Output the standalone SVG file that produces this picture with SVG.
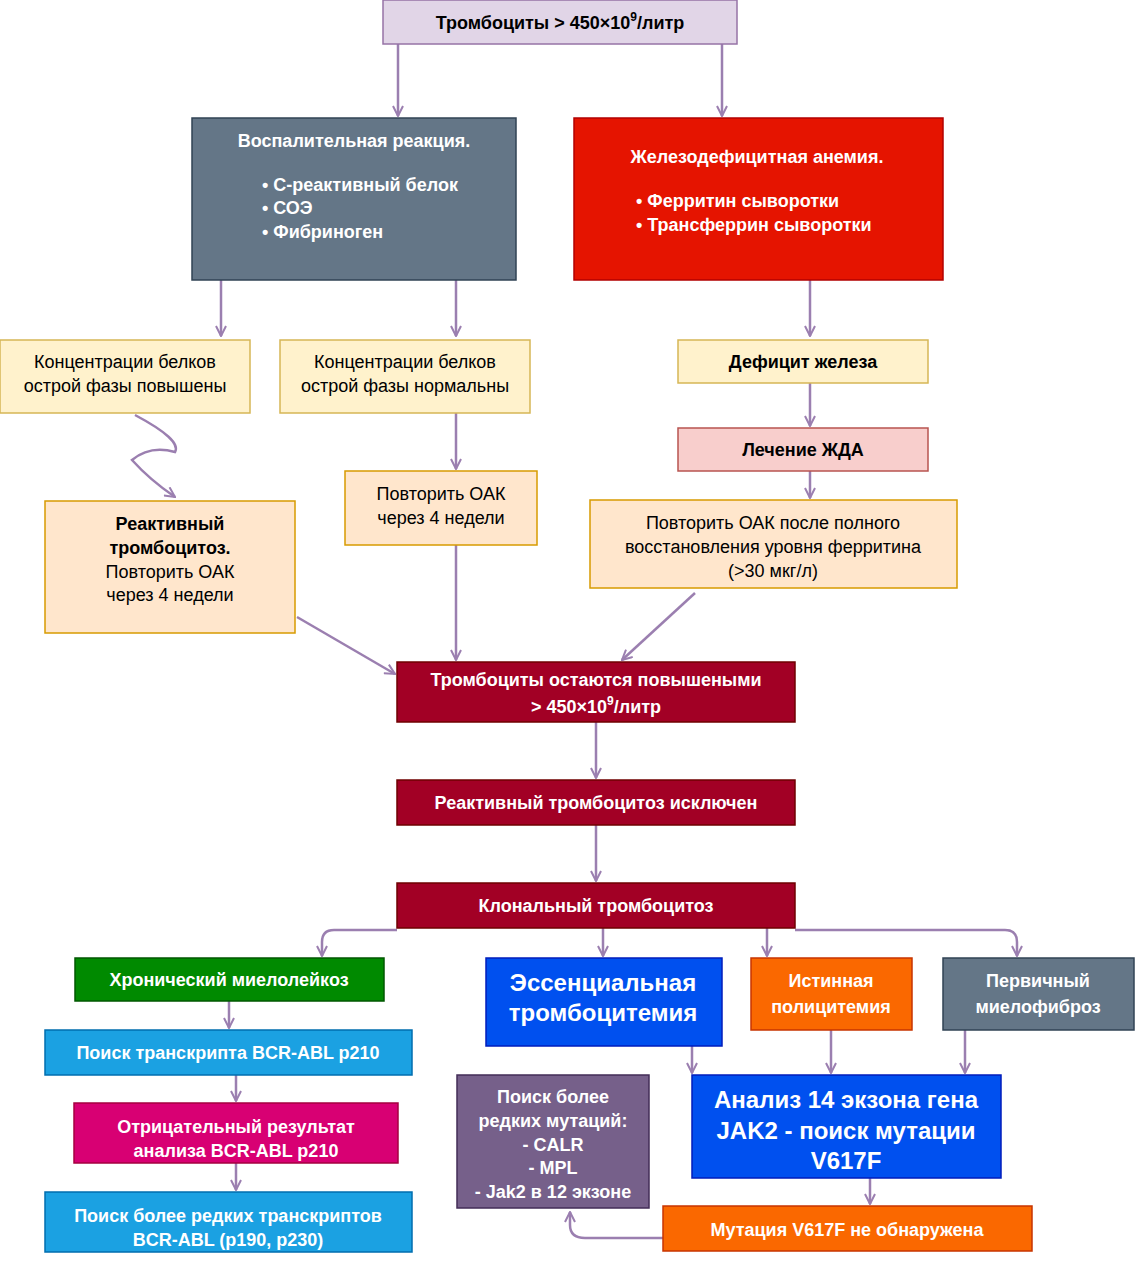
<svg xmlns="http://www.w3.org/2000/svg" width="1135" height="1280" viewBox="0 0 1135 1280">
<defs>
<marker id="a" viewBox="0 0 12 12" refX="11" refY="6" markerWidth="12" markerHeight="12" markerUnits="userSpaceOnUse" orient="auto"><path d="M1,1 L11,6 L1,11" fill="none" stroke="#9b7fb0" stroke-width="2"/></marker>
</defs>
<style>
text{font-family:"Liberation Sans",Arial,sans-serif;font-size:18px;text-anchor:middle}
.b{font-weight:bold}
.w{fill:#fff;font-weight:bold}
.big{font-size:24px}
.c{fill:none;stroke:#9b7fb0;stroke-width:2.5;marker-end:url(#a)}
</style>
<rect width="1135" height="1280" fill="#fff"/>
<g id="connectors">
<path class="c" d="M398,44 V116"/>
<path class="c" d="M722,44 V116"/>
<path class="c" d="M221,280 V336"/>
<path class="c" d="M456,280 V336"/>
<path class="c" d="M810,280 V336"/>
<path class="c" d="M810,383 V426"/>
<path class="c" d="M810,471 V498"/>
<path class="c" d="M456,413 V469"/>
<path class="c" d="M135,415 Q182,440 175,452 Q150,445 132,460 Q150,480 175,497"/>
<path class="c" d="M297,617 L395,674"/>
<path class="c" d="M456,545 V660"/>
<path class="c" d="M695,593 L622,660"/>
<path class="c" d="M596,722 V778"/>
<path class="c" d="M596,825 V881"/>
<path class="c" d="M397,930 H334 Q322,930 322,942 V956"/>
<path class="c" d="M795,930 H1005 Q1017,930 1017,942 V956"/>
<path class="c" d="M603,928 V956"/>
<path class="c" d="M767,928 V956"/>
<path class="c" d="M229,1001 V1028"/>
<path class="c" d="M236,1075 V1101"/>
<path class="c" d="M236,1163 V1190"/>
<path class="c" d="M692,1046 V1073"/>
<path class="c" d="M831,1030 V1073"/>
<path class="c" d="M965,1030 V1073"/>
<path class="c" d="M870,1178 V1204"/>
<path class="c" d="M663,1238 H585 Q570,1238 570,1225 V1212"/>
</g>
<g id="n1"><rect x="383" y="0" width="354" height="44" fill="#e1d5e7" stroke="#9673a6" stroke-width="1.5"/><text class="b" x="560" y="29">Тромбоциты &gt; 450×10<tspan dy="-8" font-size="12">9</tspan><tspan dy="8">/литр</tspan></text></g>
<g id="n2"><rect x="192" y="118" width="324" height="162" fill="#647687" stroke="#314354" stroke-width="1.5"/><text class="w" x="354" y="147">Воспалительная реакция.</text>
<g style="text-anchor:start"><text class="w" x="262" y="191" style="text-anchor:start">•   С-реактивный белок</text><text class="w" x="262" y="214" style="text-anchor:start">•   СОЭ</text><text class="w" x="262" y="238" style="text-anchor:start">•    Фибриноген</text></g></g>
<g id="n3"><rect x="574" y="118" width="369" height="162" fill="#e51400" stroke="#b20000" stroke-width="1.5"/><text class="w" x="757" y="163">Железодефицитная анемия.</text><text class="w" x="636" y="207" style="text-anchor:start">•   Ферритин сыворотки</text><text class="w" x="636" y="231" style="text-anchor:start">•   Трансферрин сыворотки</text></g>
<g id="n4"><rect x="0" y="340" width="250" height="73" fill="#fff2cc" stroke="#d6b656" stroke-width="1.5"/><text x="125" y="368">Концентрации белков</text><text x="125" y="392">острой фазы повышены</text></g>
<g id="n5"><rect x="280" y="340" width="250" height="73" fill="#fff2cc" stroke="#d6b656" stroke-width="1.5"/><text x="405" y="368">Концентрации белков</text><text x="405" y="392">острой фазы нормальны</text></g>
<g id="n6"><rect x="678" y="340" width="250" height="43" fill="#fff2cc" stroke="#d6b656" stroke-width="1.5"/><text class="b" x="803" y="368">Дефицит железа</text></g>
<g id="n7"><rect x="678" y="428" width="250" height="43" fill="#f8cecc" stroke="#b85450" stroke-width="1.5"/><text class="b" x="803" y="456">Лечение ЖДА</text></g>
<g id="n8"><rect x="590" y="500" width="367" height="88" fill="#ffe6cc" stroke="#d79b00" stroke-width="1.5"/><text x="773" y="529">Повторить ОАК после полного</text><text x="773" y="553">восстановления уровня ферритина</text><text x="773" y="577">(&gt;30 мкг/л)</text></g>
<g id="n9"><rect x="345" y="471" width="192" height="74" fill="#ffe6cc" stroke="#d79b00" stroke-width="1.5"/><text x="441" y="500">Повторить ОАК</text><text x="441" y="524">через 4 недели</text></g>
<g id="n10"><rect x="45" y="501" width="250" height="132" fill="#ffe6cc" stroke="#d79b00" stroke-width="1.5"/><text class="b" x="170" y="530">Реактивный</text><text class="b" x="170" y="554">тромбоцитоз.</text><text x="170" y="578">Повторить ОАК</text><text x="170" y="601">через 4 недели</text></g>
<g id="n11"><rect x="397" y="662" width="398" height="60" fill="#a20025" stroke="#6f0000" stroke-width="1.5"/><text class="w" x="596" y="686">Тромбоциты остаются повышеными</text><text class="w" x="596" y="713">&gt; 450×10<tspan dy="-8" font-size="12">9</tspan><tspan dy="8">/литр</tspan></text></g>
<g id="n12"><rect x="397" y="780" width="398" height="45" fill="#a20025" stroke="#6f0000" stroke-width="1.5"/><text class="w" x="596" y="809">Реактивный тромбоцитоз исключен</text></g>
<g id="n13"><rect x="397" y="883" width="398" height="45" fill="#a20025" stroke="#6f0000" stroke-width="1.5"/><text class="w" x="596" y="912">Клональный тромбоцитоз</text></g>
<g id="n14"><rect x="75" y="958" width="309" height="43" fill="#008a00" stroke="#005700" stroke-width="1.5"/><text class="w" x="229" y="986">Хронический миелолейкоз</text></g>
<g id="n15"><rect x="45" y="1030" width="367" height="45" fill="#1ba1e2" stroke="#006eaf" stroke-width="1.5"/><text class="w" x="228" y="1059">Поиск транскрипта  BCR-ABL p210</text></g>
<g id="n16"><rect x="74" y="1103" width="324" height="60" fill="#d80073" stroke="#a50040" stroke-width="1.5"/><text class="w" x="236" y="1133">Отрицательный результат</text><text class="w" x="236" y="1157">анализа BCR-ABL p210</text></g>
<g id="n17"><rect x="45" y="1192" width="367" height="60" fill="#1ba1e2" stroke="#006eaf" stroke-width="1.5"/><text class="w" x="228" y="1222">Поиск более редких транскриптов</text><text class="w" x="228" y="1246">BCR-ABL (p190, p230)</text></g>
<g id="n18"><rect x="486" y="958" width="236" height="88" fill="#0050ef" stroke="#001dbc" stroke-width="1.5"/><text class="w big" x="603" y="991">Эссенциальная</text><text class="w big" x="603" y="1021">тромбоцитемия</text></g>
<g id="n19"><rect x="751" y="958" width="161" height="72" fill="#fa6800" stroke="#c73500" stroke-width="1.5"/><text class="w" x="831" y="987">Истинная</text><text class="w" x="831" y="1013">полицитемия</text></g>
<g id="n20"><rect x="943" y="958" width="191" height="72" fill="#647687" stroke="#314354" stroke-width="1.5"/><text class="w" x="1038" y="987">Первичный</text><text class="w" x="1038" y="1013">миелофиброз</text></g>
<g id="n21"><rect x="692" y="1075" width="309" height="103" fill="#0050ef" stroke="#001dbc" stroke-width="1.5"/><text class="w big" x="846" y="1108">Анализ 14 экзона гена</text><text class="w big" x="846" y="1139">JAK2 - поиск мутации</text><text class="w big" x="846" y="1169">V617F</text></g>
<g id="n22"><rect x="457" y="1075" width="192" height="133" fill="#76608a" stroke="#432d57" stroke-width="1.5"/><text class="w" x="553" y="1103">Поиск более</text><text class="w" x="553" y="1127">редких мутаций:</text><text class="w" x="553" y="1151">- CALR</text><text class="w" x="553" y="1174">- MPL</text><text class="w" x="553" y="1198">- Jak2 в 12 экзоне</text></g>
<g id="n23"><rect x="663" y="1206" width="369" height="45" fill="#fa6800" stroke="#c73500" stroke-width="1.5"/><text class="w" x="847" y="1236">Мутация V617F не обнаружена</text></g>
</svg>
